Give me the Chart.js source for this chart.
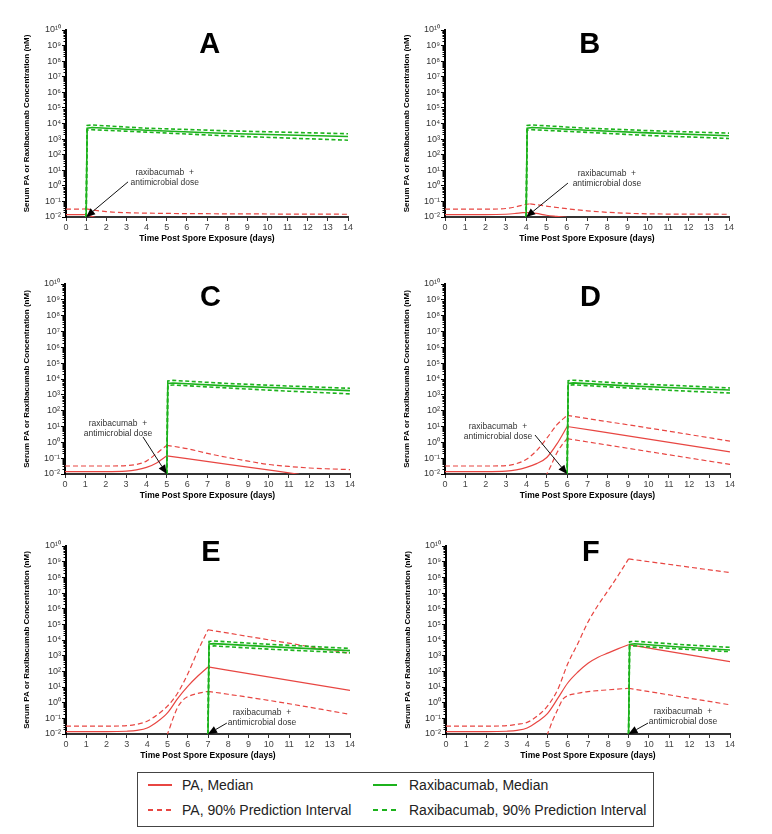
<!DOCTYPE html>
<html>
<head>
<meta charset="utf-8">
<script src="https://cdn.jsdelivr.net/npm/chart.js@4/dist/chart.umd.min.js"></script>
<style>
  body { margin: 0; background: #fff; width: 772px; height: 834px; position: relative; overflow: hidden;
         font-family: "Liberation Sans", Arial, sans-serif; }
  canvas { position: absolute; }
  #legend { position: absolute; left: 137px; top: 772px; width: 517px; height: 55px;
            border: 1px solid #444; box-sizing: border-box; }
  #legend .item { position: absolute; height: 20px; line-height: 20px; font-size: 14px; color: #222; white-space: nowrap; }
  #legend svg { position: absolute; top: 8px; }
  #legend span { position: absolute; top: 0; }
</style>
</head>
<body>
<div id="legend"></div>
<script>
// ---- data: [day, concentration nM] ----
const yTicks = [1e-2, 1e-1, 1, 1e1, 1e2, 1e3, 1e4, 1e5, 1e6, 1e7, 1e8, 1e9, 1e10];
const yTickLabels = ['10⁻²', '10⁻¹', '10⁰', '10¹', '10²', '10³', '10⁴', '10⁵', '10⁶', '10⁷', '10⁸', '10⁹', '10¹⁰'];
const panelLetters = ['A', 'B', 'C', 'D', 'E', 'F'];
const doseDays = [1, 4, 5, 6, 7, 9];

// panel A (dose day 1)
const paMedA = [[0, 0.014], [0.5, 0.014], [1, 0.0145], [1.5, 0.009], [2, 0.006]];
const paHiA = [[0, 0.032], [0.5, 0.032], [1, 0.033], [2, 0.022], [3, 0.019], [5, 0.017], [8, 0.016], [14, 0.015]];
const paLoA = [];
const raxMedA = [[1, 0.01], [1.05, 5000], [1.3, 5500], [4, 3700], [8, 2300], [14, 1450]];
const raxHiA = [[1, 0.01], [1.05, 7500], [1.3, 8000], [4, 5000], [8, 3400], [14, 2200]];
const raxLoA = [[1, 0.01], [1.05, 3800], [1.3, 4000], [4, 2800], [8, 1600], [14, 850]];

// panel B (dose day 4)
const paMedB = [[0, 0.014], [2, 0.014], [3, 0.015], [3.5, 0.017], [4, 0.02], [4.5, 0.017], [5, 0.013], [5.5, 0.011], [6, 0.0095]];
const paHiB = [[0, 0.032], [2, 0.032], [3, 0.035], [3.5, 0.045], [4, 0.065], [4.2, 0.07], [5, 0.05], [6, 0.034], [7, 0.025], [8, 0.02], [10, 0.016], [14, 0.015]];
const paLoB = [];
const raxMedB = [[4, 0.01], [4.05, 5000], [4.3, 5500], [7, 3700], [10, 2500], [14, 1650]];
const raxHiB = [[4, 0.01], [4.05, 7500], [4.3, 8000], [7, 5000], [10, 3500], [14, 2400]];
const raxLoB = [[4, 0.01], [4.05, 3800], [4.3, 4000], [7, 2700], [10, 1700], [14, 1100]];

// panel C (dose day 5)
const paMedC = [[0, 0.014], [2, 0.014], [3, 0.015], [3.5, 0.018], [4, 0.026], [4.5, 0.05], [5, 0.14], [8, 0.041], [11.5, 0.0096]];
const paHiC = [[0, 0.032], [2, 0.032], [3, 0.034], [3.5, 0.04], [4, 0.065], [4.5, 0.2], [5, 0.65], [6, 0.4], [7, 0.2], [8, 0.11], [9, 0.065], [10, 0.04], [11, 0.03], [12, 0.024], [13, 0.021], [14, 0.019]];
const paLoC = [];
const raxMedC = [[5, 0.01], [5.05, 5200], [5.3, 5600], [8, 3700], [11, 2600], [14, 1850]];
const raxHiC = [[5, 0.01], [5.05, 7500], [5.3, 8200], [8, 5200], [11, 3600], [14, 2600]];
const raxLoC = [[5, 0.01], [5.05, 3800], [5.3, 4200], [8, 2700], [11, 1700], [14, 1150]];

// panel D (dose day 6)
const paMedD = [[0, 0.014], [2, 0.014], [3, 0.015], [3.5, 0.018], [4, 0.026], [4.5, 0.045], [5, 0.11], [5.5, 0.8], [6, 10], [10, 1.6], [14, 0.25]];
const paHiD = [[0, 0.032], [2, 0.032], [3, 0.034], [3.5, 0.045], [4, 0.085], [4.5, 0.3], [5, 1.8], [5.5, 13], [6, 50], [10, 8], [14, 1.2]];
const paLoD = [[4.9, 0.007], [5, 0.01], [5.25, 0.045], [5.5, 0.22], [5.75, 0.7], [6, 1.7], [10, 0.26], [14, 0.04]];
const raxMedD = [[6, 0.01], [6.05, 5300], [6.3, 5700], [9, 3700], [11.5, 2700], [14, 2000]];
const raxHiD = [[6, 0.01], [6.05, 7800], [6.3, 8400], [9, 5200], [11.5, 3800], [14, 2700]];
const raxLoD = [[6, 0.01], [6.05, 3900], [6.3, 4300], [9, 2700], [11.5, 1800], [14, 1300]];

// panel E (dose day 7)
const paMedE = [[0, 0.014], [2, 0.014], [3, 0.015], [3.5, 0.017], [4, 0.024], [4.5, 0.06], [5, 0.22], [5.5, 1.8], [6, 11], [6.5, 50], [7, 190], [14, 6]];
const paHiE = [[0, 0.032], [2, 0.032], [3, 0.034], [3.5, 0.042], [4, 0.065], [4.5, 0.17], [5, 0.6], [5.5, 4], [6, 68], [6.5, 2000], [7, 45000], [14, 1400]];
const paLoE = [[4.95, 0.008], [5, 0.01], [5.25, 0.08], [5.5, 0.5], [5.75, 1.4], [6, 2.4], [6.5, 3.9], [7, 5.3], [10, 1.4], [14, 0.18]];
const raxMedE = [[7, 0.01], [7.05, 5500], [7.3, 5900], [10, 3800], [14, 2100]];
const raxHiE = [[7, 0.01], [7.05, 8000], [7.3, 8600], [10, 5300], [14, 2900]];
const raxLoE = [[7, 0.01], [7.05, 3800], [7.3, 4200], [10, 2600], [14, 1500]];

// panel F (dose day 9)
const paMedF = [[0, 0.014], [2, 0.014], [3, 0.015], [3.5, 0.017], [4, 0.024], [4.5, 0.06], [5, 0.2], [5.5, 1.8], [6, 18], [6.5, 90], [7, 330], [7.5, 800], [8, 1500], [8.5, 2800], [9, 5000], [14, 420]];
const paHiF = [[0, 0.032], [2, 0.032], [3, 0.034], [3.5, 0.042], [4, 0.055], [4.5, 0.14], [5, 0.6], [5.5, 6.6], [6, 300], [6.5, 6000], [7, 1.4e5], [7.5, 1.7e6], [8, 1.5e7], [8.5, 1.4e8], [9, 1.5e9], [14, 2e8]];
const paLoF = [[4.95, 0.008], [5, 0.01], [5.25, 0.07], [5.5, 0.35], [5.75, 1.6], [6, 2.8], [6.5, 4], [7, 5.1], [8, 6.6], [9, 8.3], [14, 0.73]];
const raxMedF = [[9, 0.01], [9.05, 5200], [9.3, 5700], [11.5, 3600], [14, 2300]];
const raxHiF = [[9, 0.01], [9.05, 7800], [9.3, 8400], [11.5, 5200], [14, 3400]];
const raxLoF = [[9, 0.01], [9.05, 3800], [9.3, 4200], [11.5, 2700], [14, 1800]];

const paMedian = [paMedA, paMedB, paMedC, paMedD, paMedE, paMedF];
const paHigh = [paHiA, paHiB, paHiC, paHiD, paHiE, paHiF];
const paLow = [paLoA, paLoB, paLoC, paLoD, paLoE, paLoF];
const raxMedian = [raxMedA, raxMedB, raxMedC, raxMedD, raxMedE, raxMedF];
const raxHigh = [raxHiA, raxHiB, raxHiC, raxHiD, raxHiE, raxHiF];
const raxLow = [raxLoA, raxLoB, raxLoC, raxLoD, raxLoE, raxLoF];

// ---- layout (page pixels) ----
const RED = 'rgb(232,70,66)';
const GREEN = 'rgb(28,178,28)';
const FONT = '"Liberation Sans", Arial, sans-serif';
Chart.defaults.font.family = FONT;

const panels = [
  { left: 0,   top: 0,   w: 386, h: 250, area: [66, 30, 348, 217],  titlePad: 22 },
  { left: 386, top: 0,   w: 386, h: 250, area: [445, 30, 729, 217], titlePad: 16 },
  { left: 0,   top: 255, w: 386, h: 252, area: [65, 284, 350, 474], titlePad: 22 },
  { left: 386, top: 255, w: 386, h: 252, area: [445, 284, 730, 474], titlePad: 16 },
  { left: 0,   top: 520, w: 386, h: 247, area: [66, 546, 350, 734], titlePad: 22 },
  { left: 386, top: 520, w: 386, h: 247, area: [446, 546, 730, 734], titlePad: 17 }
];
// note text centre [day, value] and arrow tail [day, value]
const notes = [
  { at: [4.9, 3.2],    tail: [3.08, 1.8] },
  { at: [7.98, 2.75],  tail: [6.06, 1.5] },
  { at: [2.6, 6.9],    tail: [3.83, 2.2] },
  { at: [2.6, 4.5],    tail: [4.42, 2.9] },
  { at: [9.66, 0.105], tail: [7.93, 0.05] },
  { at: [11.68, 0.12], tail: [9.96, 0.05] }
];
const letterDy = [15, 15, 14, 14, 7, 7];
const noteLines = ['raxibacumab  +', 'antimicrobial dose'];

const panelDecor = {
  id: 'panelDecor',
  afterDraw(chart, args, opts) {
    const { ctx, chartArea: a, scales: { x, y } } = chart;
    ctx.save();
    // minor log ticks
    ctx.strokeStyle = '#000';
    ctx.lineWidth = 1;
    for (let k = -2; k < 10; k++) {
      for (let m = 2; m < 10; m++) {
        const py = Math.round(y.getPixelForValue(m * Math.pow(10, k))) + 0.5;
        ctx.beginPath();
        ctx.moveTo(a.left - 2.5, py);
        ctx.lineTo(a.left, py);
        ctx.stroke();
      }
    }
    // panel letter
    ctx.fillStyle = '#000';
    ctx.font = 'bold 29px ' + FONT;
    ctx.textAlign = 'center';
    ctx.textBaseline = 'middle';
    ctx.fillText(opts.letter, a.left + a.width * 0.51, a.top + opts.letterDy);
    // dose note + arrow
    const n = opts.note;
    const tx = x.getPixelForValue(n.at[0]), ty = y.getPixelForValue(n.at[1]);
    ctx.font = '8.5px ' + FONT;
    ctx.fillStyle = '#333';
    ctx.fillText(noteLines[0], tx, ty - 5);
    ctx.fillText(noteLines[1], tx, ty + 5);
    const x0 = x.getPixelForValue(n.tail[0]), y0 = y.getPixelForValue(n.tail[1]);
    const x1 = x.getPixelForValue(opts.dose), y1 = a.bottom;
    const ang = Math.atan2(y1 - y0, x1 - x0);
    const hl = 9, hw = 3.8;
    ctx.strokeStyle = '#111';
    ctx.lineWidth = 1;
    ctx.beginPath();
    ctx.moveTo(x0, y0);
    ctx.lineTo(x1 - hl * Math.cos(ang), y1 - hl * Math.sin(ang));
    ctx.stroke();
    ctx.fillStyle = '#000';
    ctx.beginPath();
    ctx.moveTo(x1, y1);
    ctx.lineTo(x1 - hl * Math.cos(ang) + hw * Math.sin(ang), y1 - hl * Math.sin(ang) - hw * Math.cos(ang));
    ctx.lineTo(x1 - hl * Math.cos(ang) - hw * Math.sin(ang), y1 - hl * Math.sin(ang) + hw * Math.cos(ang));
    ctx.closePath();
    ctx.fill();
    ctx.restore();
  }
};

function toXY(pts) {
  return pts.map(p => ({ x: p[0], y: p[1] }));
}

function straight(pts, color, dash, width) {
  return { data: toXY(pts), borderColor: color, borderWidth: width, borderDash: dash,
           pointRadius: 0, fill: false, tension: 0 };
}

// red curves are smooth on each side of their peak, with a sharp corner at the peak
function smooth(pts, color, dash) {
  if (pts.length < 2) return [];
  let k = 0;
  pts.forEach((p, i) => { if (p[1] > pts[k][1]) k = i; });
  return [pts.slice(0, k + 1), pts.slice(k)]
    .filter(part => part.length > 1)
    .map(part => ({ data: toXY(part), borderColor: color, borderWidth: 1.2, borderDash: dash,
                    pointRadius: 0, fill: false, tension: 0.4, cubicInterpolationMode: 'monotone',
                    capBezierPoints: false }));
}

panels.forEach((p, i) => {
  const cv = document.createElement('canvas');
  cv.width = p.w;
  cv.height = p.h;
  cv.style.left = p.left + 'px';
  cv.style.top = p.top + 'px';
  document.body.appendChild(cv);
  const [al, at, ar, ab] = p.area;

  const datasets = [
    straight(raxMedian[i], GREEN, [], 1.6),
    straight(raxHigh[i], GREEN, [4, 2.5], 1.6),
    straight(raxLow[i], GREEN, [4, 2.5], 1.6),
    ...smooth(paMedian[i], RED, []),
    ...smooth(paHigh[i], RED, [5, 3]),
    ...smooth(paLow[i], RED, [5, 3])
  ];

  new Chart(cv, {
    type: 'line',
    data: { datasets },
    plugins: [panelDecor],
    options: {
      responsive: false,
      animation: false,
      layout: { padding: { left: 0, top: at - p.top, right: p.left + p.w - ar, bottom: p.top + p.h - ab - 30 } },
      plugins: {
        legend: { display: false },
        tooltip: { enabled: false },
        panelDecor: { letter: panelLetters[i], letterDy: letterDy[i], note: notes[i], dose: doseDays[i] }
      },
      scales: {
        x: {
          type: 'linear', min: 0, max: 14,
          ticks: { stepSize: 1, autoSkip: false, maxRotation: 0, color: '#444', font: { size: 9 }, padding: 1 },
          grid: { drawOnChartArea: false, tickLength: 4, color: '#333' },
          border: { color: '#333', width: 2 },
          title: { display: true, text: 'Time Post Spore Exposure (days)', color: '#000',
                   font: { size: 8.5, weight: 'bold' }, padding: { top: 0, bottom: 3 } },
          afterFit: s => { s.height = 30; }
        },
        y: {
          type: 'logarithmic', min: 0.01, max: 1e10,
          afterBuildTicks: s => { s.ticks = yTicks.map(v => ({ value: v })); },
          ticks: { autoSkip: false, color: '#333', font: { size: 9 }, padding: 1,
                   callback: v => yTickLabels[Math.round(Math.log10(v)) + 2] },
          grid: { drawOnChartArea: false, tickLength: 4, color: '#000' },
          border: { color: '#000', width: 2 },
          title: { display: true, text: 'Serum PA or Raxibacumab Concentration (nM)', color: '#000',
                   font: { size: 8, weight: 'bold' }, padding: { top: p.titlePad, bottom: 0 } },
          afterFit: s => { s.width = al - p.left; }
        }
      }
    }
  });
});

// ---- legend ----
const legendItems = [
  { label: 'PA, Median', color: RED, dash: '', x: 10, tx: 44, row: 0 },
  { label: 'Raxibacumab, Median', color: GREEN, dash: '', x: 235, tx: 271, row: 0 },
  { label: 'PA, 90% Prediction Interval', color: RED, dash: '5 4', x: 10, tx: 44, row: 1 },
  { label: 'Raxibacumab, 90% Prediction Interval', color: GREEN, dash: '5 4', x: 235, tx: 271, row: 1 }
];
const legend = document.getElementById('legend');
legendItems.forEach(it => {
  const d = document.createElement('div');
  d.className = 'item';
  d.style.left = '0px';
  d.style.top = (2 + it.row * 25) + 'px';
  d.innerHTML = `<svg width="26" height="4" style="left:${it.x}px"><line x1="0" y1="2" x2="24" y2="2" stroke="${it.color}" stroke-width="2" stroke-dasharray="${it.dash}"/></svg>` +
                `<span style="left:${it.tx}px">${it.label}</span>`;
  legend.appendChild(d);
});
</script>
</body>
</html>
